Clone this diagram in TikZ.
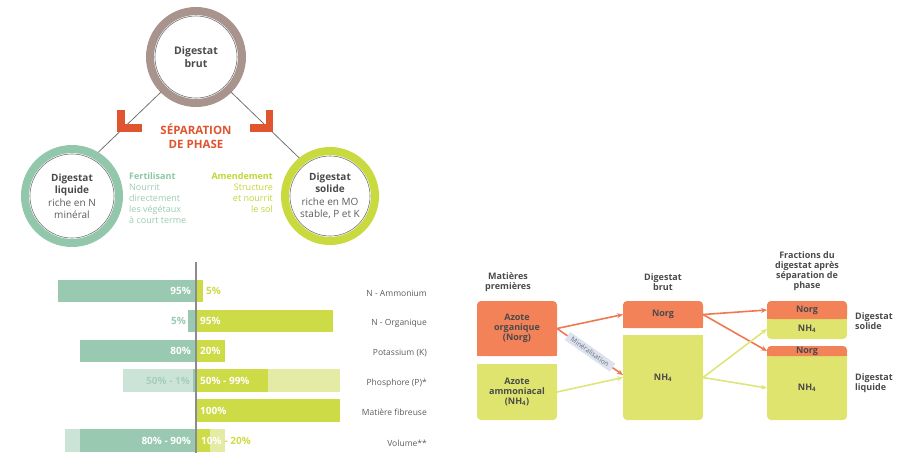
\documentclass[tikz,border=0pt]{standalone}
\usepackage{fontspec}
\setmainfont{Open Sans}
\usetikzlibrary{arrows.meta,calc}
\definecolor{brownring}{HTML}{A8948C}
\definecolor{greenring}{HTML}{93C7AB}
\definecolor{limering}{HTML}{C8DA3E}
\definecolor{sepred}{HTML}{E0552F}
\definecolor{fertgreen}{HTML}{8DC6A5}
\definecolor{fertbody}{HTML}{9ACDB2}
\definecolor{amendlime}{HTML}{C2D535}
\definecolor{bargreen}{HTML}{99C9B1}
\definecolor{barlgreen}{HTML}{CCE4D8}
\definecolor{barlime}{HTML}{CDDB47}
\definecolor{barllime}{HTML}{E4EBA4}
\definecolor{midgreen}{HTML}{A6CEBA}
\definecolor{txtdark}{HTML}{4A4A4A}
\definecolor{txtgray}{HTML}{5C5C5C}
\definecolor{boxorange}{HTML}{F38259}
\definecolor{boxlime}{HTML}{DEE46E}
\definecolor{arrorange}{HTML}{F07850}
\definecolor{arrlime}{HTML}{DFE57A}
\definecolor{minbg}{HTML}{DCE3EE}
\definecolor{mintxt}{HTML}{6B707A}
\begin{document}
\begin{tikzpicture}[x=1pt,y=-1pt,
  ring/.style={circle, line width=8pt, outer sep=4pt, inner sep=0pt, align=center,
    text=txtdark, font=\fontsize{10}{12.5}\selectfont},
  thinring/.style={line width=0.6pt, draw=black!55},
  conn/.style={line width=0.8pt, draw=black!55},
  barlbl/.style={font=\bfseries\fontsize{10}{11}\selectfont, inner sep=0pt},
  catlbl/.style={font=\fontsize{8.5}{10}\selectfont, text=txtgray, anchor=east, inner sep=0pt},
  hdr/.style={font=\bfseries\fontsize{9}{10}\selectfont, text=txtdark, align=center, inner sep=0pt},
  boxtxt/.style={font=\bfseries\fontsize{9}{10}\selectfont, text=txtdark, align=center,
    inner sep=0pt, outer sep=0pt, minimum width=80pt},
  oarrow/.style={line width=1.6pt, draw=arrorange, -{Stealth[length=6pt,width=5pt]}},
  larrow/.style={line width=1.6pt, draw=arrlime, -{Stealth[length=6pt,width=5pt]}},
  minlbl/.style={sloped, fill=minbg, text=mintxt, font=\fontsize{6.8}{8}\selectfont,
    inner xsep=5pt, inner ysep=2.2pt}
]
\useasboundingbox (0,0) rectangle (908,453);

% ---------- circles ----------
\node[ring, draw=brownring, minimum size=92pt, font=\fontsize{10.5}{13}\selectfont] (top) at (196,57)
  {\textbf{Digestat}\\\textbf{brut}};
\node[ring, draw=greenring, minimum size=94pt] (left) at (72,196)
  {\textbf{Digestat}\\\textbf{liquide}\\\textcolor{txtgray}{riche en N}\\\textcolor{txtgray}{minéral}};
\node[ring, draw=limering, minimum size=90pt] (right) at (330,196)
  {\textbf{Digestat}\\\textbf{solide}\\\textcolor{txtgray}{riche en MO}\\\textcolor{txtgray}{stable, P et K}};
\draw[thinring] (top) circle[radius=41];
\draw[thinring] (left) circle[radius=42];
\draw[thinring] (right) circle[radius=40];
\draw[conn] (top.225) -- (left.59);
\draw[conn] (top.-45) -- (right.129);

% L marks
\fill[sepred] (117,110) rectangle (124.5,131.5);
\fill[sepred] (117,124) rectangle (141.5,131.5);
\fill[sepred] (265.5,110) rectangle (273,131.5);
\fill[sepred] (250,124) rectangle (273,131.5);

\node[font=\bfseries\fontsize{11.5}{14}\selectfont, text=sepred, align=center, inner sep=0pt]
  (sep) at (196,136) {SÉPARATION\\DE PHASE};

\node[anchor=west, align=left, font=\fontsize{9}{11}\selectfont, text=fertbody, inner sep=0pt]
  (fert) at (129,198) {\textcolor{fertgreen}{\textbf{Fertilisant}}\\Nourrit\\directement\\les végétaux\\à court terme};
\node[anchor=east, align=right, font=\fontsize{9}{11}\selectfont, text=amendlime, inner sep=0pt]
  (amend) at (273,192.5) {\textbf{Amendement}\\Structure\\et nourrit\\le sol};

% ---------- bar chart ----------
\fill[bargreen] (58,280) rectangle (196,302);
\fill[barlime] (196,280) rectangle (203,302);
\fill[bargreen] (188,310) rectangle (196,332);
\fill[barlime] (196,310) rectangle (333,332);
\fill[bargreen] (80,340) rectangle (196,362);
\fill[barlime] (196,340) rectangle (225,362);
\fill[barlgreen] (123,369) rectangle (196,392);
\fill[bargreen] (193,369) rectangle (196,392);
\fill[barllime] (196,369) rectangle (340,392);
\fill[barlime] (196,369) rectangle (268,392);
\fill[barlime] (196,399) rectangle (340,422);
\fill[barlgreen] (65,429) rectangle (196,452);
\fill[bargreen] (80,429) rectangle (196,452);
\fill[barllime] (196,429) rectangle (225,452);
\fill[barlime] (196,429) rectangle (210,452);
\draw[line width=1.2pt, draw=black!45] (196,262) -- (196,453);

\node[barlbl, anchor=east, text=white] (l1) at (191,291) {95\%};
\node[barlbl, anchor=west, text=barlime] (r1) at (206,291) {5\%};
\node[barlbl, anchor=east, text=bargreen] (l2) at (186,321) {5\%};
\node[barlbl, anchor=west, text=white] (r2) at (200,321) {95\%};
\node[barlbl, anchor=east, text=white] (l3) at (191,351) {80\%};
\node[barlbl, anchor=west, text=white] (r3) at (200,351) {20\%};
\node[barlbl, anchor=east, text=midgreen] (l4) at (190,380.5) {50\% - 1\%};
\node[barlbl, anchor=west, text=white] (r4) at (200,380.5) {50\% - 99\%};
\node[barlbl, anchor=west, text=white] (r5) at (200,410.5) {100\%};
\node[barlbl, anchor=east, text=white] (l6) at (191,440.5) {80\% - 90\%};
\node[barlbl, anchor=west] (r6) at (201,440.5) {\textcolor{white}{10\%}\hspace{3pt}\textcolor{barlime}{- 20\%}};

\node[catlbl] (c1) at (427,293) {N - Ammonium};
\node[catlbl] (c2) at (427,323) {N - Organique};
\node[catlbl] (c3) at (427,353) {Potassium (K)};
\node[catlbl] (c4) at (427,383) {Phosphore (P)*};
\node[catlbl] (c5) at (427,412.5) {Matière fibreuse};
\node[catlbl] (c6) at (427,443) {Volume**};

% ---------- nitrogen diagram ----------
\fill[boxorange, rounded corners=4pt] (477,301) rectangle (557,356);
\fill[boxorange] (477,320) rectangle (557,356);
\fill[boxlime, rounded corners=4pt] (477,364) rectangle (557,420);
\fill[boxlime] (477,364) rectangle (557,400);
\fill[boxorange, rounded corners=4pt] (623,301) rectangle (703,328);
\fill[boxorange] (623,312) rectangle (703,328);
\fill[boxlime, rounded corners=4pt] (623,335) rectangle (703,420);
\fill[boxlime] (623,335) rectangle (703,400);
\fill[boxlime, rounded corners=4pt] (767,301) rectangle (847,339);
\fill[boxorange, rounded corners=4pt] (767,301) rectangle (847,319);
\fill[boxorange] (767,308) rectangle (847,319);
\fill[boxlime, rounded corners=4pt] (767,346) rectangle (847,420);
\fill[boxorange, rounded corners=4pt] (767,346) rectangle (847,356);
\fill[boxorange] (767,351) rectangle (847,356);

\node[boxtxt, minimum height=55pt] (aorg) at (517,328.5) {Azote\\organique\\(Norg)};
\node[boxtxt, minimum height=56pt] (aamm) at (517,392) {Azote\\ammoniacal\\(NH\textsubscript{4})};
\node[boxtxt, minimum height=27pt] (norgm) at (663,314.5) {Norg};
\node[boxtxt, minimum height=85pt] (nhm) at (663,377.5) {NH\textsubscript{4}};
\node[boxtxt, minimum height=18pt] (norgs) at (807,310) {Norg};
\node[boxtxt, minimum height=20pt] (nhs) at (807,329) {NH\textsubscript{4}};
\node[boxtxt, minimum height=10pt] (norgl) at (807,351) {Norg};
\node[boxtxt, minimum height=64pt] (nhl) at (807,388) {NH\textsubscript{4}};

\node[hdr] (hmp) at (508,282) {Matières\\premières};
\node[hdr] (hdb) at (663,282) {Digestat\\brut};
\node[hdr] (hfr) at (807,271) {Fractions du\\digestat après\\séparation de\\phase};
\node[hdr, anchor=west, align=left] (lsol) at (855,321) {Digestat\\solide};
\node[hdr, anchor=west, align=left] (lliq) at (855,383) {Digestat\\liquide};

\coordinate (minend) at ($(nhm.west)+(0,-2.5)$);
\draw[oarrow] (aorg.east) -- (norgm.west);
\draw[oarrow] (aorg.east) -- node[minlbl] (minl) {Minéralisation} (minend);
\draw[larrow] (aamm.east) -- (nhm.west);
\draw[oarrow] (norgm.east) -- (norgs.west);
\draw[oarrow] (norgm.east) -- (norgl.west);
\draw[larrow] (nhm.east) -- (nhs.west);
\draw[larrow] (nhm.east) -- (nhl.west);
\end{tikzpicture}
\end{document}
